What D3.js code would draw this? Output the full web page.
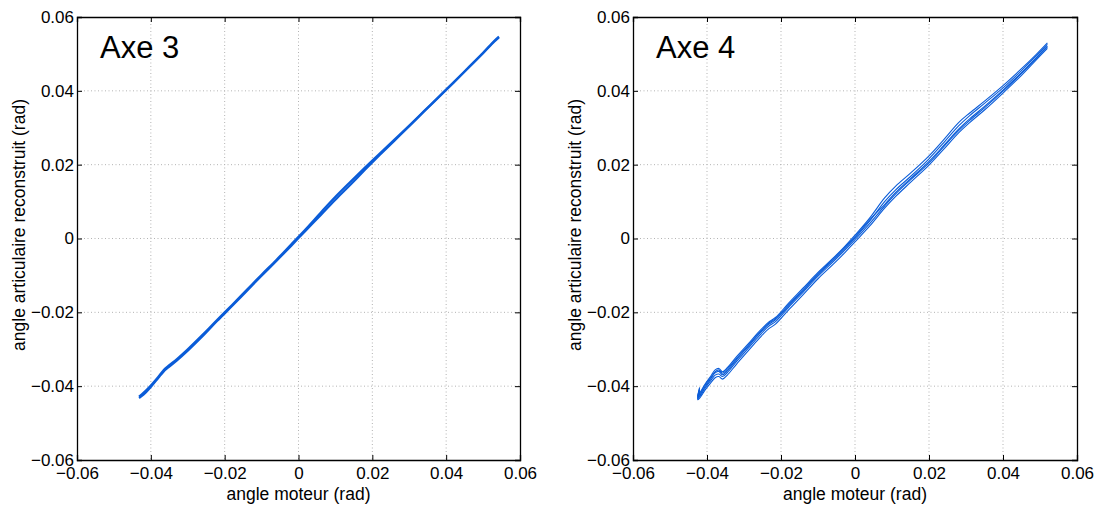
<!DOCTYPE html>
<html lang="fr">
<head>
<meta charset="utf-8">
<title>Axe 3 / Axe 4</title>
<script src="https://d3js.org/d3.v7.min.js"></script>
<style>
  body { margin: 0; background: #fff; }
  text { font-family: "Liberation Sans", Arial, sans-serif; fill: #000; }
</style>
</head>
<body>
<script>
// tick values shared by both axes
var ticks = [-0.06, -0.04, -0.02, 0, 0.02, 0.04, 0.06];

// Axe 3 : angle moteur vs angle articulaire (two passes)
var axe3X  = [-0.0432, -0.0420, -0.0400, -0.0380, -0.0365, -0.0350, -0.0330, -0.0300, -0.0260, -0.0220,
              -0.0180, -0.0140, -0.0100, -0.0060, -0.0020, 0.0020, 0.0060, 0.0100, 0.0140, 0.0180,
               0.0220, 0.0260, 0.0300, 0.0340, 0.0380, 0.0420, 0.0460, 0.0500, 0.0530, 0.0543];
var axe3Y1 = [-0.0432, -0.0423, -0.0402, -0.0378, -0.0360, -0.0347, -0.0331, -0.0304, -0.0265, -0.0223,
              -0.0183, -0.0142, -0.0101, -0.0061, -0.0020, 0.0022, 0.0063, 0.0105, 0.0145, 0.0186,
               0.0226, 0.0265, 0.0304, 0.0344, 0.0383, 0.0422, 0.0462, 0.0502, 0.0533, 0.0545];
var axe3Y2 = [-0.0428, -0.0418, -0.0398, -0.0375, -0.0356, -0.0343, -0.0327, -0.0300, -0.0261, -0.0220,
              -0.0180, -0.0139, -0.0098, -0.0058, -0.0016, 0.0026, 0.0070, 0.0113, 0.0153, 0.0192,
               0.0230, 0.0268, 0.0306, 0.0345, 0.0384, 0.0423, 0.0463, 0.0503, 0.0535, 0.0547];

// Axe 4 : several cycles
var axe4X  = [-0.0420, -0.0425, -0.0418, -0.0405, -0.0390, -0.0378, -0.0368, -0.0358, -0.0345, -0.0320,
              -0.0290, -0.0260, -0.0235, -0.0215, -0.0180, -0.0140, -0.0100, -0.0060, -0.0030, 0.0000,
               0.0040, 0.0080, 0.0110, 0.0150, 0.0200, 0.0240, 0.0280, 0.0310, 0.0350, 0.0400,
               0.0450, 0.0490, 0.0520];
var axe4Y1 = [-0.0406, -0.0432, -0.0423, -0.0401, -0.0380, -0.0364, -0.0360, -0.0369, -0.0358, -0.0328,
              -0.0294, -0.0260, -0.0234, -0.0220, -0.0183, -0.0141, -0.0098, -0.0060, -0.0030, 0.0002,
               0.0048, 0.0100, 0.0132, 0.0168, 0.0216, 0.0260, 0.0305, 0.0333, 0.0366, 0.0408,
               0.0455, 0.0495, 0.0526];
var axe4Y2 = [-0.0410, -0.0426, -0.0416, -0.0394, -0.0373, -0.0356, -0.0352, -0.0361, -0.0350, -0.0320,
              -0.0287, -0.0253, -0.0228, -0.0214, -0.0176, -0.0134, -0.0092, -0.0054, -0.0024, 0.0009,
               0.0056, 0.0110, 0.0142, 0.0177, 0.0224, 0.0268, 0.0314, 0.0340, 0.0372, 0.0414,
               0.0460, 0.0499, 0.0530];
var axe4Y3 = [-0.0416, -0.0437, -0.0430, -0.0410, -0.0391, -0.0377, -0.0374, -0.0381, -0.0370, -0.0340,
              -0.0306, -0.0272, -0.0246, -0.0232, -0.0194, -0.0152, -0.0109, -0.0071, -0.0041, -0.0009,
               0.0034, 0.0082, 0.0114, 0.0152, 0.0199, 0.0242, 0.0286, 0.0314, 0.0348, 0.0394,
               0.0442, 0.0484, 0.0515];
var axe4Y4 = [-0.0403, -0.0429, -0.0419, -0.0397, -0.0377, -0.0361, -0.0356, -0.0365, -0.0354, -0.0325,
              -0.0291, -0.0257, -0.0231, -0.0217, -0.0180, -0.0138, -0.0095, -0.0057, -0.0027, 0.0005,
               0.0051, 0.0092, 0.0125, 0.0162, 0.0209, 0.0252, 0.0296, 0.0324, 0.0358, 0.0402,
               0.0449, 0.0490, 0.0521];
var axe4Y5 = [-0.0412, -0.0434, -0.0426, -0.0405, -0.0385, -0.0370, -0.0367, -0.0374, -0.0363, -0.0333,
              -0.0299, -0.0265, -0.0239, -0.0225, -0.0187, -0.0145, -0.0102, -0.0064, -0.0034, -0.0003,
               0.0041, 0.0088, 0.0121, 0.0159, 0.0205, 0.0249, 0.0292, 0.0320, 0.0354, 0.0399,
               0.0447, 0.0488, 0.0519];

var w = 1100, h = 509;
var lineColor = "#0a5cd8";

var svg = d3.select("body").append("svg")
    .attr("width", w)
    .attr("height", h);

function fmt(d) {
  if (d === 0) return "0";
  return (d < 0 ? "\u2212" : "") + Math.abs(d).toFixed(2);
}

function panel(left, right, title, xs, ys, lw) {
  var top = 17, bottom = 460;
  var x = d3.scaleLinear().domain([-0.06, 0.06]).range([left, right]);
  var y = d3.scaleLinear().domain([-0.06, 0.06]).range([bottom, top]);
  var g = svg.append("g");

  // dotted grid
  g.selectAll(".gx").data(ticks.slice(1, -1)).enter().append("line")
    .attr("x1", function(d) { return x(d); }).attr("x2", function(d) { return x(d); })
    .attr("y1", top).attr("y2", bottom)
    .attr("stroke", "#b3b3b3").attr("stroke-width", 1).attr("stroke-dasharray", "1,2.5");
  g.selectAll(".gy").data(ticks.slice(1, -1)).enter().append("line")
    .attr("y1", function(d) { return y(d); }).attr("y2", function(d) { return y(d); })
    .attr("x1", left).attr("x2", right)
    .attr("stroke", "#b3b3b3").attr("stroke-width", 1).attr("stroke-dasharray", "1,2.5");

  // curves
  var line = d3.line()
    .x(function(d) { return x(d[0]); })
    .y(function(d) { return y(d[1]); })
    .curve(d3.curveCatmullRom);
  ys.forEach(function(yy) {
    g.append("path")
      .datum(d3.zip(xs, yy))
      .attr("d", line)
      .attr("fill", "none")
      .attr("stroke", lineColor)
      .attr("stroke-width", lw)
      .attr("stroke-linejoin", "round");
  });

  // axes with inward ticks
  g.append("g").attr("transform", "translate(0," + bottom + ")")
    .call(d3.axisBottom(x).tickValues(ticks).tickFormat(fmt).tickSize(-5).tickPadding(7));
  g.append("g").attr("transform", "translate(0," + top + ")")
    .call(d3.axisTop(x).tickValues(ticks).tickFormat("").tickSize(-5));
  g.append("g").attr("transform", "translate(" + left + ",0)")
    .call(d3.axisLeft(y).tickValues(ticks).tickFormat(fmt).tickSize(-5).tickPadding(3));
  g.append("g").attr("transform", "translate(" + right + ",0)")
    .call(d3.axisRight(y).tickValues(ticks).tickFormat("").tickSize(-5));

  g.selectAll(".domain").attr("stroke", "#000").attr("stroke-width", 1.3);
  g.selectAll(".tick line").attr("stroke", "#000");
  g.selectAll(".tick text")
    .style("font-family", "'Liberation Sans', Arial, sans-serif")
    .style("font-size", "17px")
    .attr("fill", "#000");

  g.append("text")
    .attr("x", left + 23).attr("y", 58)
    .style("font-size", "31px")
    .text(title);

  g.append("text")
    .attr("x", (left + right) / 2).attr("y", 500)
    .attr("text-anchor", "middle")
    .style("font-size", "17.5px")
    .text("angle moteur (rad)");

  g.append("text")
    .attr("transform", "translate(" + (left - 52) + "," + 225 + ") rotate(-90)")
    .attr("text-anchor", "middle")
    .style("font-size", "17.5px")
    .text("angle articulaire reconstruit (rad)");
}

panel(77, 520, "Axe 3", axe3X, [axe3Y1, axe3Y2], 2.2);
panel(633, 1077, "Axe 4", axe4X, [axe4Y1, axe4Y2, axe4Y3, axe4Y4, axe4Y5], 1.1);
</script>
</body>
</html>
